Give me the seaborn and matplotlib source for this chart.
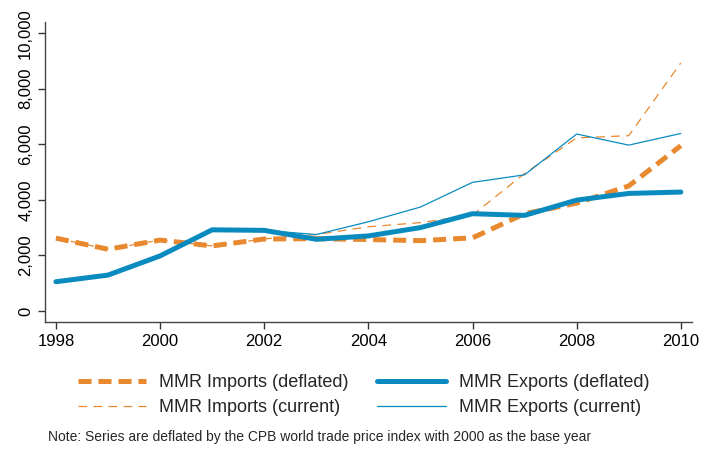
import pandas as pd
import matplotlib
matplotlib.use("Agg")
import matplotlib.pyplot as plt
import seaborn as sns

years = list(range(1998, 2011))
imports_deflated = [2620, 2220, 2550, 2340, 2590, 2600, 2570, 2530, 2630, 3500, 3880, 4500, 5950]
exports_deflated = [1050, 1290, 1980, 2920, 2900, 2580, 2700, 3000, 3500, 3440, 3990, 4230, 4280]
imports_current = [2620, 2220, 2550, 2340, 2590, 2750, 3030, 3180, 3450, 4950, 6230, 6310, 8930]
exports_current = [1050, 1290, 1980, 2920, 2900, 2750, 3210, 3740, 4630, 4900, 6370, 5970, 6390]

x_ticks = [1998, 2000, 2002, 2004, 2006, 2008, 2010]
y_ticks = [0, 2000, 4000, 6000, 8000, 10000]

orange = "#E8892F"
blue = "#0A8BBF"

df = pd.DataFrame({
    "year": years,
    "MMR Imports (deflated)": imports_deflated,
    "MMR Exports (deflated)": exports_deflated,
    "MMR Imports (current)": imports_current,
    "MMR Exports (current)": exports_current,
})

sns.set_style("ticks")
plt.rcParams["font.family"] = ["Liberation Sans", "DejaVu Sans"]

fig = plt.figure(figsize=(7.03, 4.51), dpi=100)
ax = fig.add_axes([0.064, 0.286, 0.92, 0.665])

styles = {
    "MMR Imports (deflated)": dict(color=orange, lw=3.6, dashes=(2.6, 1.4)),
    "MMR Exports (deflated)": dict(color=blue, lw=3.6),
    "MMR Imports (current)": dict(color=orange, lw=0.9, dashes=(7, 5)),
    "MMR Exports (current)": dict(color=blue, lw=0.9),
}
# thin series first so the thick ones sit on top
order = ["MMR Imports (current)", "MMR Exports (current)",
         "MMR Imports (deflated)", "MMR Exports (deflated)"]
lines = {}
for name in order:
    st = styles[name]
    sns.lineplot(data=df, x="year", y=name, ax=ax, color=st["color"],
                 lw=st["lw"], legend=False)
    ln = ax.get_lines()[-1]
    if "dashes" in st:
        ln.set_dashes(st["dashes"])
    lines[name] = ln
if ax.get_legend() is not None:
    ax.get_legend().remove()

ax.set_xlim(1997.79, 2010.21)
ax.set_ylim(-400, 10400)
ax.set_xticks(x_ticks)
ax.set_yticks(y_ticks)
ax.set_yticklabels([f"{v:,}" for v in y_ticks], rotation=90, va="center")
ax.set_xlabel("")
ax.set_ylabel("")
ax.tick_params(labelsize=12, colors="#333333", length=5, width=1, labelcolor="black")
for s in ["left", "bottom"]:
    ax.spines[s].set_color("#444444")
    ax.spines[s].set_linewidth(1.0)
sns.despine(ax=ax)

legend_order = ["MMR Imports (deflated)", "MMR Imports (current)",
                "MMR Exports (deflated)", "MMR Exports (current)"]
fig.legend([lines[n] for n in legend_order], legend_order, ncol=2,
           loc="center", bbox_to_anchor=(0.517, 0.124), frameon=False,
           fontsize=13, handlelength=3.8, columnspacing=1.6, labelspacing=0.42,
           handletextpad=0.7)

fig.text(0.068, 0.032, "Note: Series are deflated by the CPB world trade price index with 2000 as the base year",
         fontsize=10, ha="left", va="center")

fig.savefig("out.png", dpi=100)
